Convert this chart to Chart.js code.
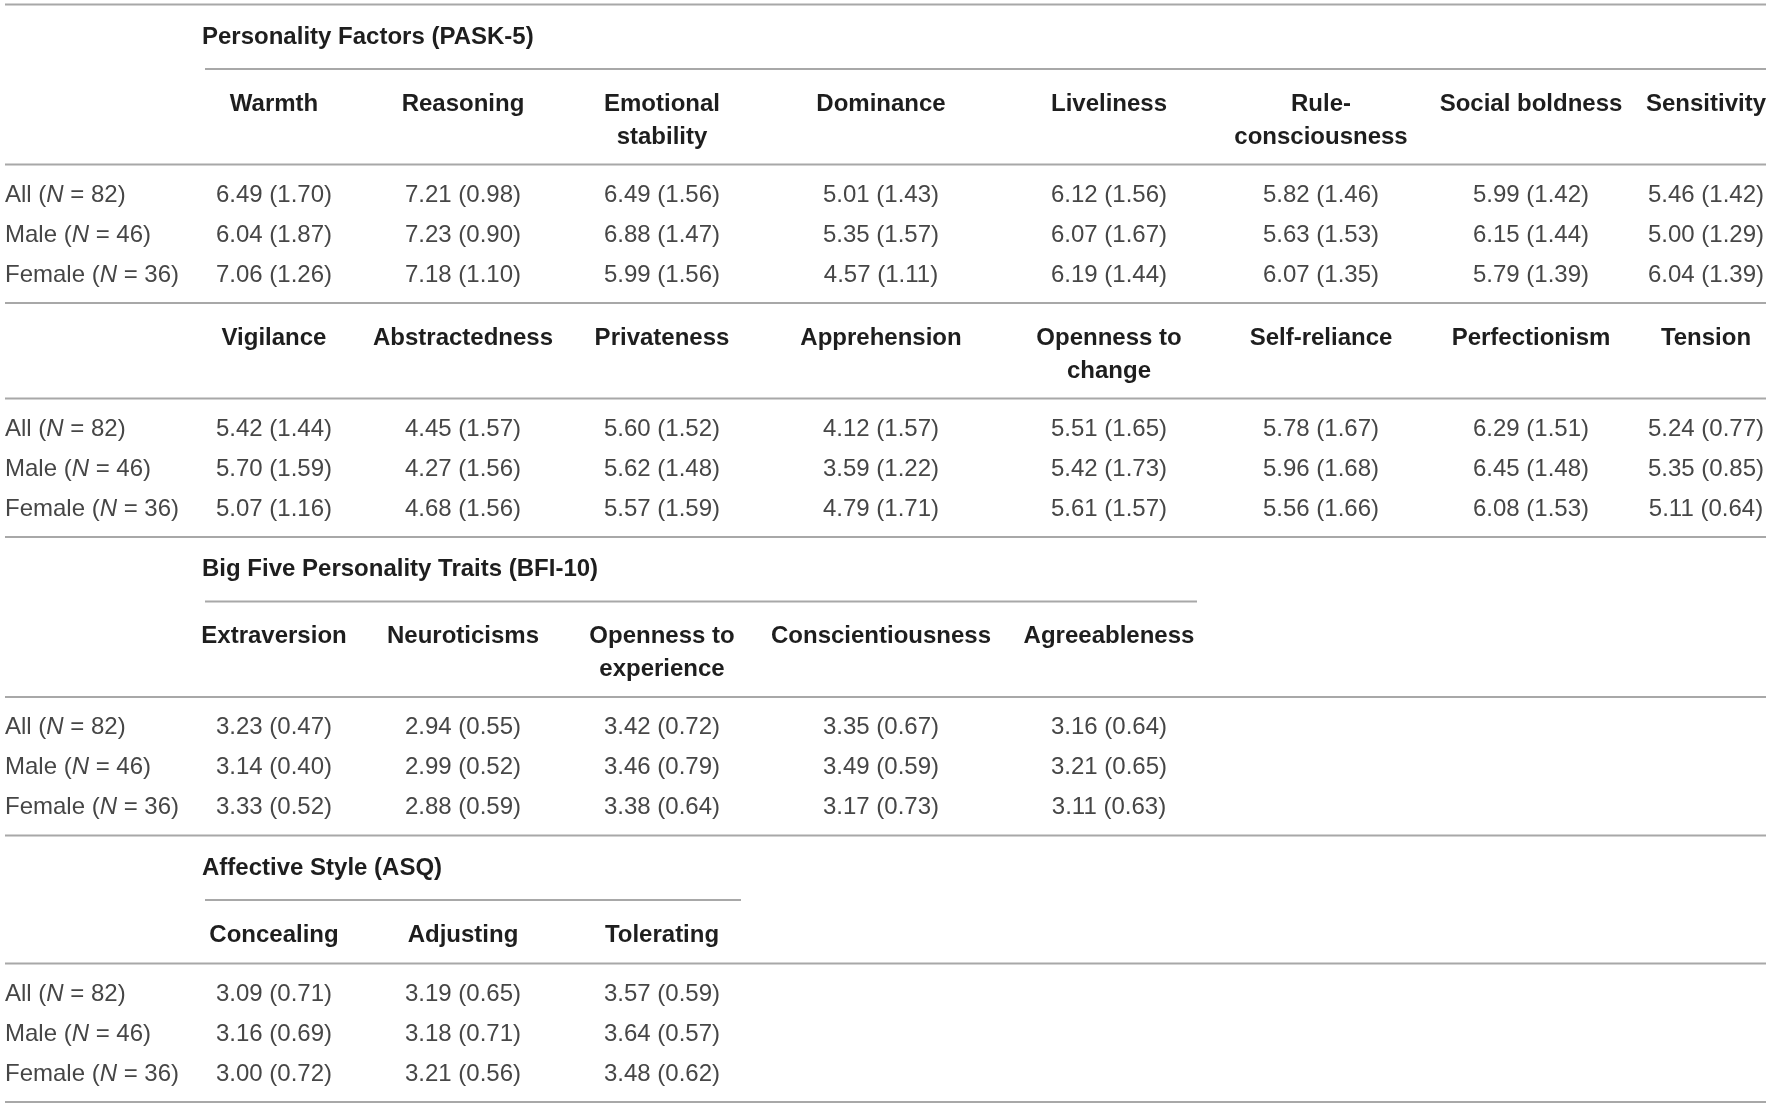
<!DOCTYPE html>
<html>
<head>
<meta charset="utf-8">
<script src="https://cdn.jsdelivr.net/npm/chart.js@4.4.0/dist/chart.umd.min.js"></script>
<style>
  html, body { margin: 0; padding: 0; background: #ffffff; }
  #wrap { width: 1772px; height: 1107px; position: relative; }
</style>
</head>
<body>
<div id="wrap"><canvas id="c" width="1772" height="1107"></canvas></div>
<script>
// ================= DATA =================
const groupLabels = ["All", "Male", "Female"];
const groupN = [82, 46, 36];

const paskTitle = "Personality Factors (PASK-5)";
const paskFactorsA = ["Warmth", "Reasoning", "Emotional stability", "Dominance", "Liveliness", "Rule-consciousness", "Social boldness", "Sensitivity"];
const paskA_allMean    = [6.49, 7.21, 6.49, 5.01, 6.12, 5.82, 5.99, 5.46];
const paskA_allSD      = [1.70, 0.98, 1.56, 1.43, 1.56, 1.46, 1.42, 1.42];
const paskA_maleMean   = [6.04, 7.23, 6.88, 5.35, 6.07, 5.63, 6.15, 5.00];
const paskA_maleSD     = [1.87, 0.90, 1.47, 1.57, 1.67, 1.53, 1.44, 1.29];
const paskA_femaleMean = [7.06, 7.18, 5.99, 4.57, 6.19, 6.07, 5.79, 6.04];
const paskA_femaleSD   = [1.26, 1.10, 1.56, 1.11, 1.44, 1.35, 1.39, 1.39];

const paskFactorsB = ["Vigilance", "Abstractedness", "Privateness", "Apprehension", "Openness to change", "Self-reliance", "Perfectionism", "Tension"];
const paskB_allMean    = [5.42, 4.45, 5.60, 4.12, 5.51, 5.78, 6.29, 5.24];
const paskB_allSD      = [1.44, 1.57, 1.52, 1.57, 1.65, 1.67, 1.51, 0.77];
const paskB_maleMean   = [5.70, 4.27, 5.62, 3.59, 5.42, 5.96, 6.45, 5.35];
const paskB_maleSD     = [1.59, 1.56, 1.48, 1.22, 1.73, 1.68, 1.48, 0.85];
const paskB_femaleMean = [5.07, 4.68, 5.57, 4.79, 5.61, 5.56, 6.08, 5.11];
const paskB_femaleSD   = [1.16, 1.56, 1.59, 1.71, 1.57, 1.66, 1.53, 0.64];

const bfiTitle = "Big Five Personality Traits (BFI-10)";
const bfiTraits = ["Extraversion", "Neuroticisms", "Openness to experience", "Conscientiousness", "Agreeableness"];
const bfi_allMean    = [3.23, 2.94, 3.42, 3.35, 3.16];
const bfi_allSD      = [0.47, 0.55, 0.72, 0.67, 0.64];
const bfi_maleMean   = [3.14, 2.99, 3.46, 3.49, 3.21];
const bfi_maleSD     = [0.40, 0.52, 0.79, 0.59, 0.65];
const bfi_femaleMean = [3.33, 2.88, 3.38, 3.17, 3.11];
const bfi_femaleSD   = [0.52, 0.59, 0.64, 0.73, 0.63];

const asqTitle = "Affective Style (ASQ)";
const asqScales = ["Concealing", "Adjusting", "Tolerating"];
const asq_allMean    = [3.09, 3.19, 3.57];
const asq_allSD      = [0.71, 0.65, 0.59];
const asq_maleMean   = [3.16, 3.18, 3.64];
const asq_maleSD     = [0.69, 0.71, 0.57];
const asq_femaleMean = [3.00, 3.21, 3.48];
const asq_femaleSD   = [0.72, 0.56, 0.62];

// ================= LAYOUT / STYLE =================
const L = {
  width: 1772, height: 1107,
  colWidths: [180, 188, 190, 208, 230, 226, 198, 222, 128],
  labelX: 5,
  ruleLeft: 5, ruleRight: 1766,
  spanInset: 25, titleIndent: 22,
  top: 4.5,
  titleH: 64.5, titlePad: 32.5,
  headPadTop: 35, headLine: 33, headH2: 95.5, headH1: 63.5,
  dataPadTop: 30.5, dataRow: 40, dataH: 138.5,
  cellPad: 8
};
const FONT_FAMILY = '"Liberation Sans", Arial, Helvetica, sans-serif';
const STYLES = {
  body:  { font: '400 24px ' + FONT_FAMILY, italic: 'italic 400 24px ' + FONT_FAMILY, color: '#464646' },
  head:  { font: '700 24px ' + FONT_FAMILY, italic: 'italic 700 24px ' + FONT_FAMILY, color: '#1e1e1e' }
};
const RULE_COLOR = '#a8a8a8';
const RULE_WIDTH = 2;

// ================= BUILD =================
const colStart = [];
(function () { let acc = 0; L.colWidths.forEach(w => { colStart.push(acc); acc += w; }); })();
const colCenter = i => colStart[i] + L.colWidths[i] / 2;
const colEnd = i => colStart[i] + L.colWidths[i];

const measureCtx = document.createElement('canvas').getContext('2d');
function wrapText(text, maxW, font) {
  measureCtx.font = font;
  const tokens = [];
  text.split(' ').forEach((w, wi, arr) => {
    const parts = w.split(/(?<=-)/);
    parts.forEach((p, pi) => tokens.push({ t: p, sp: (pi === parts.length - 1 && wi < arr.length - 1) }));
  });
  const lines = [];
  let cur = '';
  let pendingSpace = false;
  tokens.forEach(tok => {
    const cand = cur === '' ? tok.t : cur + (pendingSpace ? ' ' : '') + tok.t;
    if (cur !== '' && measureCtx.measureText(cand).width > maxW) {
      lines.push(cur);
      cur = tok.t;
    } else {
      cur = cand;
    }
    pendingSpace = tok.sp;
  });
  if (cur !== '') lines.push(cur);
  return lines;
}

function labelRich(r) {
  return [
    { text: groupLabels[r] + ' (' },
    { text: 'N', italic: true },
    { text: ' = ' + groupN[r] + ')' }
  ];
}

const datasets = [];
function addRule(y, x0, x1) {
  datasets.push({
    type: 'scatter', showLine: true,
    data: [{ x: x0, y: y }, { x: x1, y: y }],
    borderColor: RULE_COLOR, borderWidth: RULE_WIDTH,
    pointRadius: 0, pointHoverRadius: 0, fill: false, clip: false, tension: 0
  });
}
function addText(points, texts, align, style) {
  datasets.push({
    type: 'scatter', showLine: false, data: points,
    cellText: texts, textAlign: align, textStyle: style,
    pointRadius: 0, pointHoverRadius: 0, clip: false
  });
}

let yCur = L.top;
addRule(yCur, L.ruleLeft, L.ruleRight);

function titleSlot(title, nCols) {
  addText([{ x: colStart[1] + L.titleIndent, y: yCur + L.titlePad }], [title], 'left', 'head');
  yCur += L.titleH;
  const x1 = nCols >= 8 ? L.ruleRight : colEnd(nCols) - L.spanInset;
  addRule(yCur, colStart[1] + L.spanInset, x1);
}
function headerSlot(headers) {
  const wrapped = headers.map((h, i) => wrapText(h, L.colWidths[i + 1] - 2 * L.cellPad, STYLES.head.font));
  const nLines = Math.max.apply(null, wrapped.map(w => w.length));
  const pts = [], txt = [];
  wrapped.forEach((lines, i) => lines.forEach((ln, k) => {
    pts.push({ x: colCenter(i + 1), y: yCur + L.headPadTop + k * L.headLine });
    txt.push(ln);
  }));
  addText(pts, txt, 'center', 'head');
  yCur += nLines > 1 ? L.headH2 : L.headH1;
  addRule(yCur, L.ruleLeft, L.ruleRight);
}
function dataSlot(groups) {
  const lp = [], lt = [], vp = [], vt = [];
  groups.forEach((g, r) => {
    const means = g[0], sds = g[1];
    const ry = yCur + L.dataPadTop + r * L.dataRow;
    lp.push({ x: L.labelX, y: ry });
    lt.push(labelRich(r));
    means.forEach((m, c) => {
      vp.push({ x: colCenter(c + 1), y: ry });
      vt.push(m.toFixed(2) + ' (' + sds[c].toFixed(2) + ')');
    });
  });
  addText(lp, lt, 'left', 'body');
  addText(vp, vt, 'center', 'body');
  yCur += L.dataH;
  addRule(yCur, L.ruleLeft, L.ruleRight);
}

titleSlot(paskTitle, paskFactorsA.length);
headerSlot(paskFactorsA);
dataSlot([[paskA_allMean, paskA_allSD], [paskA_maleMean, paskA_maleSD], [paskA_femaleMean, paskA_femaleSD]]);
headerSlot(paskFactorsB);
dataSlot([[paskB_allMean, paskB_allSD], [paskB_maleMean, paskB_maleSD], [paskB_femaleMean, paskB_femaleSD]]);
titleSlot(bfiTitle, bfiTraits.length);
headerSlot(bfiTraits);
dataSlot([[bfi_allMean, bfi_allSD], [bfi_maleMean, bfi_maleSD], [bfi_femaleMean, bfi_femaleSD]]);
titleSlot(asqTitle, asqScales.length);
headerSlot(asqScales);
dataSlot([[asq_allMean, asq_allSD], [asq_maleMean, asq_maleSD], [asq_femaleMean, asq_femaleSD]]);

// ================= TEXT PLUGIN =================
function drawRich(ctx, t, x, y, align, styleKey) {
  const st = STYLES[styleKey];
  const segs = typeof t === 'string' ? [{ text: t }] : t;
  ctx.save();
  ctx.fillStyle = st.color;
  ctx.textBaseline = 'middle';
  ctx.textAlign = 'left';
  let total = 0;
  const widths = segs.map(s => { ctx.font = s.italic ? st.italic : st.font; const w = ctx.measureText(s.text).width; total += w; return w; });
  let cx = align === 'center' ? x - total / 2 : (align === 'right' ? x - total : x);
  segs.forEach((s, i) => {
    ctx.font = s.italic ? st.italic : st.font;
    ctx.fillText(s.text, cx, y);
    cx += widths[i];
  });
  ctx.restore();
}

const tableTextPlugin = {
  id: 'tableText',
  afterDatasetsDraw(chart) {
    const ctx = chart.ctx;
    chart.data.datasets.forEach((ds, i) => {
      if (!ds.cellText) return;
      const meta = chart.getDatasetMeta(i);
      meta.data.forEach((el, j) => {
        drawRich(ctx, ds.cellText[j], el.x, el.y, ds.textAlign, ds.textStyle);
      });
    });
  }
};

const whiteBg = {
  id: 'whiteBg',
  beforeDraw(chart) {
    const c = chart.ctx; c.save(); c.fillStyle = '#ffffff'; c.fillRect(0, 0, chart.width, chart.height); c.restore();
  }
};

new Chart(document.getElementById('c'), {
  type: 'scatter',
  data: { datasets: datasets },
  options: {
    responsive: false,
    devicePixelRatio: 1,
    animation: false,
    events: [],
    layout: { padding: 0 },
    plugins: { legend: { display: false }, tooltip: { enabled: false }, title: { display: false } },
    scales: {
      x: { type: 'linear', display: false, min: 0, max: L.width, grid: { display: false } },
      y: { type: 'linear', display: false, min: 0, max: L.height, reverse: true, grid: { display: false } }
    }
  },
  plugins: [whiteBg, tableTextPlugin]
});
</script>
</body>
</html>
